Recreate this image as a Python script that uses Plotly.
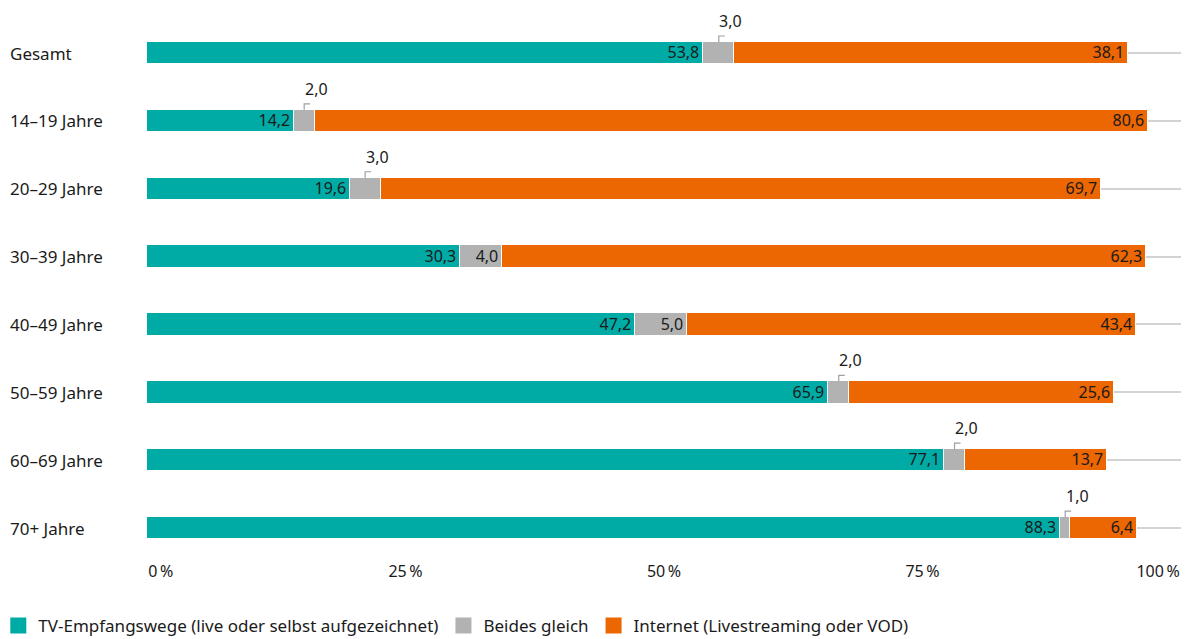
import plotly.graph_objects as go

categories = ["Gesamt", "14–19 Jahre", "20–29 Jahre", "30–39 Jahre",
              "40–49 Jahre", "50–59 Jahre", "60–69 Jahre", "70+ Jahre"]
tv = [53.8, 14.2, 19.6, 30.3, 47.2, 65.9, 77.1, 88.3]
beides = [3.0, 2.0, 3.0, 4.0, 5.0, 2.0, 2.0, 1.0]
internet = [38.1, 80.6, 69.7, 62.3, 43.4, 25.6, 13.7, 6.4]
series_names = ["TV-Empfangswege (live oder selbst aufgezeichnet)",
                "Beides gleich", "Internet (Livestreaming oder VOD)"]
tick_vals = [0, 25, 50, 75, 100]
tick_text = ["\u2007\u2007\u20070\u202f%", "25\u202f%", "50\u202f%", "75\u202f%",
             "100\u202f%\u2007\u2007\u2007\u2007\u2007"]

TEAL = "#00ABA6"
GRAY = "#B2B2B2"
ORANGE = "#EC6602"
TXT = "#1a1a1a"
FONT = "Noto Sans"
idx = list(range(len(categories)))

fig = go.Figure()


def fmt(v):
    return f"{v:.1f}".replace(".", ",")


gray_inside = [v >= 4 for v in beides]

for vals, name, col, texts in [
    (tv, series_names[0], TEAL, [fmt(v) for v in tv]),
    (beides, series_names[1], GRAY, [fmt(v) if ins else "" for v, ins in zip(beides, gray_inside)]),
    (internet, series_names[2], ORANGE, [fmt(v) for v in internet]),
]:
    fig.add_trace(go.Bar(
        y=idx, x=vals, orientation="h", name=name,
        marker=dict(color=col, line=dict(color="white", width=1.5)),
        width=0.33, text=texts, textposition="inside", insidetextanchor="end",
        textfont=dict(family=FONT, size=16, color=TXT),
        showlegend=False, hoverinfo="skip",
    ))

# legend entries with larger square symbols
for name, col in zip(series_names, [TEAL, GRAY, ORANGE]):
    fig.add_trace(go.Scatter(
        x=[None], y=[None], mode="markers", name=name,
        marker=dict(symbol="square", size=16, color=col),
    ))

annotations = []
shapes = []
for i, cat in enumerate(categories):
    annotations.append(dict(
        x=-0.1345, xref="paper", y=i, yref="y", text=cat, showarrow=False,
        xanchor="left", yanchor="middle", font=dict(family=FONT, size=17, color=TXT),
    ))
    if not gray_inside[i]:
        cx = tv[i] + beides[i] / 2
        annotations.append(dict(
            x=cx, y=i, xref="x", yref="y", text=fmt(beides[i]), showarrow=False,
            xanchor="center", yanchor="middle", xshift=12, yshift=32,
            font=dict(family=FONT, size=16, color=TXT),
        ))
        shapes.append(dict(
            type="path", xref="x", yref="y", xsizemode="pixel", ysizemode="pixel",
            xanchor=cx, yanchor=i,
            path="M 0,11 L 0,17 L 6,17",
            line=dict(color="#a0a0a0", width=1.2),
        ))

fig.update_layout(
    width=1189, height=639,
    barmode="stack", bargap=0,
    plot_bgcolor="white", paper_bgcolor="white",
    margin=dict(l=147, r=8, t=15, b=84, autoexpand=False),
    separators=",.",
    uniformtext=dict(minsize=16, mode="show"),
    xaxis=dict(range=[0, 100], tickvals=tick_vals, ticktext=tick_text,
               showgrid=False, zeroline=False, showline=False, ticks="",
               tickfont=dict(family=FONT, size=16, color=TXT), fixedrange=True,
               automargin=False, ticklabelstandoff=5, ticklabeloverflow="allow"),
    yaxis=dict(range=[7.397, -0.56], showticklabels=False, showgrid=True,
               gridcolor="#d3d3d3", gridwidth=1.5, zeroline=False, ticks="",
               fixedrange=True, automargin=False),
    legend=dict(orientation="h", xref="paper", yref="paper",
                x=-0.1438, y=-0.098, xanchor="left", yanchor="top",
                font=dict(family=FONT, size=17, color=TXT),
                itemwidth=30, traceorder="normal"),
    annotations=annotations,
    shapes=shapes,
    font=dict(family=FONT, color=TXT),
)

fig.write_html("out.html", config={"displayModeBar": False},
               post_script="document.body.style.margin='0';")
